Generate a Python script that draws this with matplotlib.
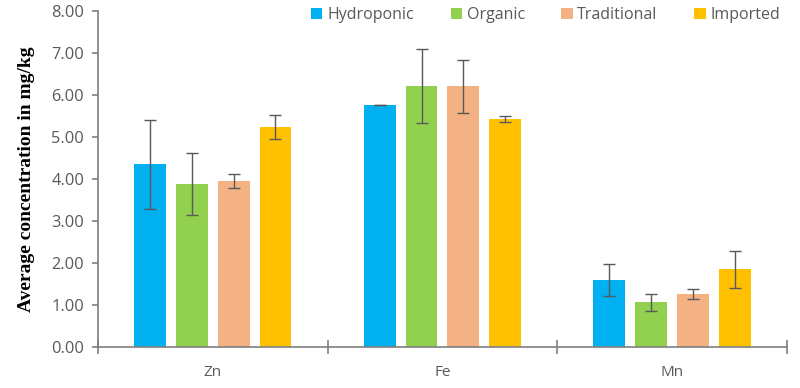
import matplotlib.pyplot as plt
import numpy as np

elements = ["Zn", "Fe", "Mn"]
series = ["Hydroponic", "Organic", "Traditional", "Imported"]
colors = ["#00B0F0", "#92D050", "#F4B183", "#FFC000"]

hydroponic = [4.36, 5.76, 1.60]
organic = [3.89, 6.21, 1.07]
traditional = [3.95, 6.21, 1.27]
imported = [5.25, 5.44, 1.86]

hydroponic_err = [1.06, 0.0, 0.39]
organic_err = [0.73, 0.88, 0.20]
traditional_err = [0.17, 0.64, 0.12]
imported_err = [0.28, 0.07, 0.44]

values = [hydroponic, organic, traditional, imported]
errors = [hydroponic_err, organic_err, traditional_err, imported_err]

plt.rcParams['font.family'] = ['Open Sans', 'DejaVu Sans']
grey = "#595959"

fig = plt.figure(figsize=(8, 3.88), dpi=100)
ax = fig.add_axes([0.1225, 0.105, 0.861, 0.866])

x = np.arange(len(elements))
width = 0.139
step = 0.182
for i, (name, vals, errs, col) in enumerate(zip(series, values, errors, colors)):
    ax.bar(x + (i - 1.5) * step, vals, width, yerr=errs, color=col, label=name,
           error_kw=dict(ecolor=grey, elinewidth=1, capsize=4, capthick=1))

ax.set_xlim(-0.5, len(elements) - 0.5)
ax.set_ylim(0, 8)
ax.set_yticks(np.arange(0, 9, 1))
ax.set_yticklabels([f"{v:.2f}" for v in np.arange(0, 9, 1)])
ax.set_xticks(x)
ax.set_xticklabels(elements)
ax.set_xticks(np.arange(-0.5, len(elements), 1), minor=True)

for s in ["top", "right"]:
    ax.spines[s].set_visible(False)
for s in ["left", "bottom"]:
    ax.spines[s].set_color("#7f7f7f")
    ax.spines[s].set_linewidth(1.2)

ax.tick_params(axis='y', colors="#7f7f7f", labelcolor=grey, labelsize=11.8, length=4, width=1.2, pad=6)
ax.tick_params(axis='x', which='major', length=0, labelcolor=grey, labelsize=11, pad=13)
ax.tick_params(axis='x', which='minor', direction='inout', length=10, width=1.2, colors="#7f7f7f")

ax.set_ylabel("Average concentration in mg/kg", family="Liberation Serif",
              fontweight="bold", fontsize=14, color="black", labelpad=12)

fig.legend(loc="center left", bbox_to_anchor=(0.389, 0.961), ncol=4, frameon=False,
           handlelength=0.7, handleheight=0.7, handletextpad=0.3, columnspacing=2.3,
           borderpad=0, borderaxespad=0, labelcolor=grey, fontsize=11.5)

fig.savefig("out.png", dpi=100)
